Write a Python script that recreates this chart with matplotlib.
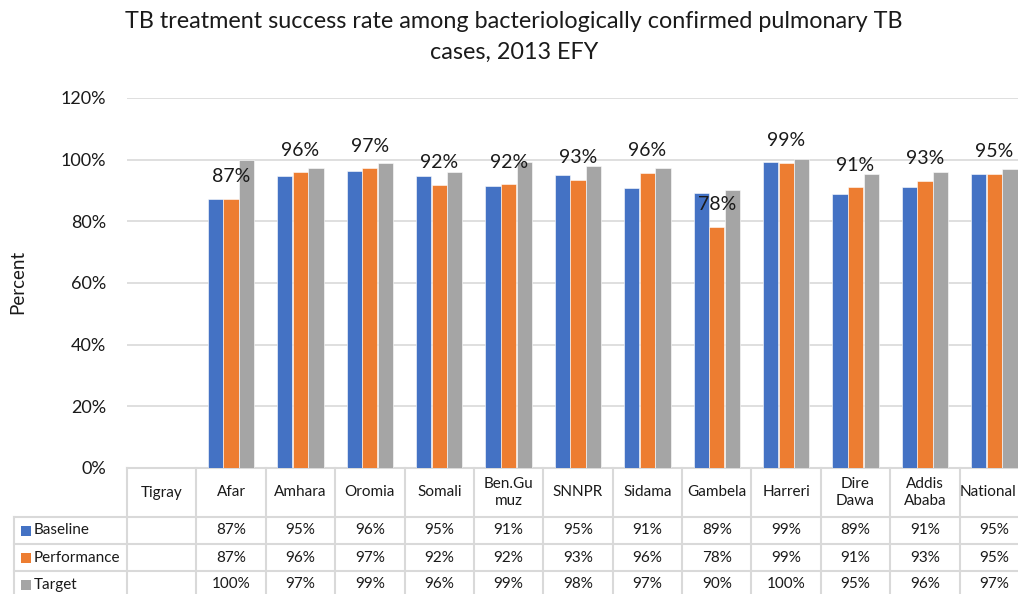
import matplotlib
matplotlib.use("Agg")
import matplotlib.pyplot as plt
import numpy as np
from matplotlib.transforms import blended_transform_factory
from matplotlib.patches import Rectangle
from matplotlib.lines import Line2D

plt.rcParams["font.family"] = ["Lato", "DejaVu Sans"]

regions = ["Tigray", "Afar", "Amhara", "Oromia", "Somali", "Ben.Gu\nmuz", "SNNPR",
           "Sidama", "Gambela", "Harreri", "Dire\nDawa", "Addis\nAbaba", "National"]
baseline = [np.nan, 87.2, 94.8, 96.4, 94.8, 91.3, 95.0, 90.9, 89.2, 99.3, 88.8, 91.2, 95.3]
performance = [np.nan, 87.2, 95.9, 97.2, 91.9, 92.0, 93.4, 95.8, 78.1, 99.0, 91.0, 93.1, 95.3]
target = [np.nan, 100.0, 97.4, 98.8, 96.0, 99.4, 97.8, 97.4, 90.1, 100.1, 95.3, 96.0, 97.0]
series_names = ["Baseline", "Performance", "Target"]
colors = ["#4472C4", "#ED7D31", "#A5A5A5"]
yticks = [0, 20, 40, 60, 80, 100, 120]

W, H = 1018, 594
fig = plt.figure(figsize=(W / 100, H / 100), dpi=100)


def box(l, t, r, b):
    return [l / W, 1 - b / H, (r - l) / W, (b - t) / H]


ax = fig.add_axes(box(127, 98, 1029, 468))
x = np.arange(len(regions))
width = 0.22
for k, (vals, c) in enumerate(zip([baseline, performance, target], colors)):
    ax.bar(x + (k - 1) * 0.225, vals, width, color=c, edgecolor="white",
           linewidth=0.4, zorder=3)

# labels above the performance bars
for xi, v in zip(x, performance):
    if np.isnan(v):
        continue
    ax.annotate(f"{v:.0f}%", (xi, v), xytext=(0, 16), textcoords="offset points",
                ha="center", va="center", fontsize=14, color="#1a1a1a", zorder=4)

ax.set_xlim(-0.5, len(regions) - 0.5)
ax.set_ylim(0, 120)
ax.set_yticks(yticks)
ax.set_yticklabels([f"{v}%" for v in yticks], fontsize=13, color="#1a1a1a")
ax.set_xticks([])
ax.tick_params(axis="y", length=0, pad=15)
ax.yaxis.grid(True, color="#D9D9D9", linewidth=1.2, zorder=0)
for s in ax.spines.values():
    s.set_visible(False)

# data table below the plot
axh = 370.0
colw = 902 / len(regions)
tr = blended_transform_factory(ax.transData, ax.transAxes)
grid_kw = dict(color="#D9D9D9", linewidth=1.5, transform=tr, clip_on=False)
left_col = -0.5 - 113 / colw
right = len(regions) - 0.5
row_edges = [0, 49, 76, 103, 130]
ax.add_line(Line2D([-0.5, right], [0, 0], **grid_kw))
for r in row_edges[1:]:
    ax.add_line(Line2D([left_col, right], [-r / axh] * 2, **grid_kw))
for xe in np.arange(-0.5, right + 1):
    ax.add_line(Line2D([xe, xe], [0, -row_edges[-1] / axh], **grid_kw))
ax.add_line(Line2D([left_col, left_col], [-49 / axh, -row_edges[-1] / axh], **grid_kw))

for xi, name in zip(x, regions):
    if xi == len(regions) - 1:
        # last header runs to the right edge of the image
        ax.text(xi - 0.5 + 57 / colw, -24.5 / axh, name, transform=tr, ha="right",
                va="center", fontsize=11, color="#1a1a1a", clip_on=False)
        continue
    ax.text(xi, -24.5 / axh, name, transform=tr, ha="center", va="center",
            fontsize=11, color="#1a1a1a", linespacing=1.25, clip_on=False)

for k, (name, vals, c) in enumerate(zip(series_names, [baseline, performance, target], colors)):
    yc = -(row_edges[k + 1] + 13.5) / axh
    ax.add_patch(Rectangle((left_col + 7 / colw, yc - 5 / axh), 10 / colw, 10 / axh,
                           facecolor=c, edgecolor="none", transform=tr, clip_on=False))
    ax.text(left_col + 20 / colw, yc, name, transform=tr, ha="left", va="center",
            fontsize=11, color="#1a1a1a", clip_on=False)
    for xi, v in zip(x, vals):
        if np.isnan(v):
            continue
        ax.text(xi, yc, f"{v:.0f}%", transform=tr, ha="center", va="center",
                fontsize=11, color="#1a1a1a", clip_on=False)

fig.text(514 / W, 1 - 22 / H,
         "TB treatment success rate among bacteriologically confirmed pulmonary TB",
         ha="center", va="center", fontsize=16.8, color="#1a1a1a")
fig.text(514 / W, 1 - 52 / H, "cases, 2013 EFY", ha="center", va="center",
         fontsize=16.8, color="#1a1a1a")
fig.text(18 / W, 1 - 282 / H, "Percent", rotation=90, ha="center", va="center",
         fontsize=13.5, color="#1a1a1a")

fig.savefig("out.png", dpi=100)
